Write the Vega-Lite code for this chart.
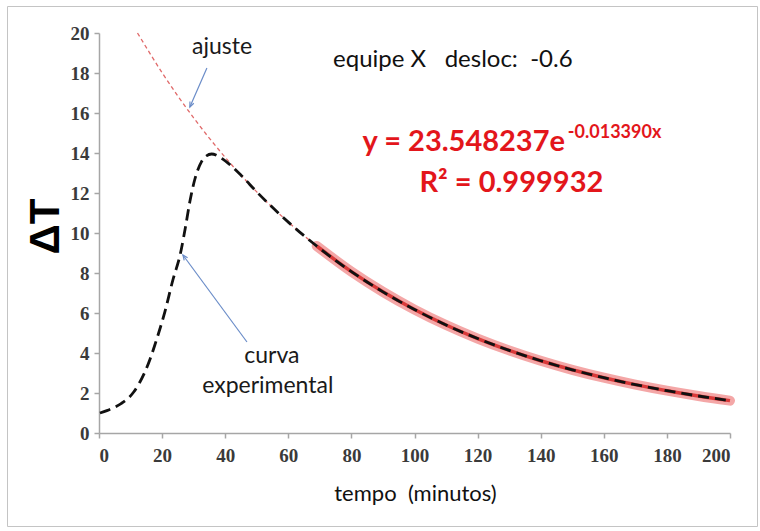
{
  "$schema": "https://vega.github.io/schema/vega-lite/v6.json",
  "width": 750,
  "height": 520,
  "autosize": {"type": "none"},
  "padding": {"left": 7, "top": 6, "right": 3, "bottom": 5},
  "background": "white",
  "config": {
    "view": {"stroke": "#c4c4c4", "strokeWidth": 1},
    "axis": {"grid": false}
  },
  "encoding": {
    "x": {
      "field": "t", "type": "quantitative",
      "scale": {"domain": [0, 200], "range": [92, 723], "nice": false, "zero": false},
      "axis": {
        "values": [0, 20, 40, 60, 80, 100, 120, 140, 160, 180, 200],
        "offset": -93,
        "domainColor": "#a6a6a6", "domainWidth": 1.5,
        "tickColor": "#a6a6a6", "tickWidth": 1.5, "tickSize": 5,
        "labelFont": "Liberation Serif", "labelFontSize": 19, "labelFontWeight": "bold",
        "labelColor": "#3a3a3a", "labelPadding": 8,
        "title": "tempo\u00a0\u00a0(minutos)",
        "titleFont": "Lato", "titleFontSize": 22, "titleFontWeight": "normal",
        "titleColor": "#111111", "titleX": 408, "titleY": 60,
        "titleBaseline": "middle", "titleAlign": "center"
      }
    },
    "y": {
      "field": "v", "type": "quantitative",
      "scale": {"domain": [0, 20], "range": [427, 27], "nice": false, "zero": false},
      "axis": {
        "values": [0, 2, 4, 6, 8, 10, 12, 14, 16, 18, 20],
        "offset": -92,
        "domainColor": "#a6a6a6", "domainWidth": 1.5,
        "tickColor": "#a6a6a6", "tickWidth": 1.5, "tickSize": 5,
        "labelFont": "Liberation Serif", "labelFontSize": 19, "labelFontWeight": "bold",
        "labelColor": "#3a3a3a", "labelPadding": 5,
        "title": "ΔT",
        "titleFont": "Liberation Sans", "titleFontSize": 42, "titleFontWeight": "bold",
        "titleColor": "#000000", "titleAngle": -90, "titleX": -54, "titleY": 220,
        "titleBaseline": "middle", "titleAlign": "center"
      }
    }
  },
  "layer": [
    {
      "data": {"values": [
        {"t": 12.2, "v": 20.0}, {"t": 20, "v": 18.016}, {"t": 30, "v": 15.758}, {"t": 40, "v": 13.783},
        {"t": 50, "v": 12.056}, {"t": 60, "v": 10.545}, {"t": 70, "v": 9.223}, {"t": 80, "v": 8.068},
        {"t": 90, "v": 7.057}, {"t": 100, "v": 6.172}, {"t": 110, "v": 5.399}, {"t": 120, "v": 4.722},
        {"t": 130, "v": 4.131}, {"t": 140, "v": 3.613}, {"t": 150, "v": 3.160}, {"t": 160, "v": 2.764},
        {"t": 170, "v": 2.418}, {"t": 180, "v": 2.115}, {"t": 190, "v": 1.850}, {"t": 200, "v": 1.618}
      ]},
      "mark": {"type": "line", "color": "#e06a6a", "strokeWidth": 1.3, "strokeDash": [4, 3], "interpolate": "monotone"}
    },
    {
      "data": {"values": [
        {"t": 69, "v": 9.35}, {"t": 80, "v": 8.068}, {"t": 90, "v": 7.057}, {"t": 100, "v": 6.172},
        {"t": 110, "v": 5.399}, {"t": 120, "v": 4.722}, {"t": 130, "v": 4.131}, {"t": 140, "v": 3.613},
        {"t": 150, "v": 3.160}, {"t": 160, "v": 2.764}, {"t": 170, "v": 2.418}, {"t": 180, "v": 2.115},
        {"t": 190, "v": 1.850}, {"t": 200, "v": 1.618}
      ]},
      "layer": [
        {"mark": {"type": "line", "color": "#f08a8a", "strokeWidth": 10, "opacity": 0.75, "interpolate": "monotone", "strokeCap": "round"}},
        {"mark": {"type": "line", "color": "#d93a3a", "strokeWidth": 3.5, "interpolate": "monotone"}}
      ]
    },
    {
      "data": {"values": [
        {"t": 0.3, "v": 1.0}, {"t": 2.5, "v": 1.12}, {"t": 5.1, "v": 1.3}, {"t": 7.0, "v": 1.47},
        {"t": 9.0, "v": 1.7}, {"t": 11.0, "v": 2.05}, {"t": 12.8, "v": 2.5}, {"t": 14.6, "v": 3.07},
        {"t": 16.2, "v": 3.7}, {"t": 17.7, "v": 4.4},
        {"t": 20.9, "v": 6.07}, {"t": 23.5, "v": 7.7}, {"t": 25.7, "v": 8.9}, {"t": 27.3, "v": 10.2},
        {"t": 28.8, "v": 11.57}, {"t": 30.4, "v": 12.7}, {"t": 32.5, "v": 13.57}, {"t": 34, "v": 13.85},
        {"t": 35.7, "v": 13.95}, {"t": 37.3, "v": 13.88}, {"t": 38.9, "v": 13.73}, {"t": 41, "v": 13.48},
        {"t": 45, "v": 12.89}, {"t": 50, "v": 12.056}, {"t": 60, "v": 10.545}, {"t": 70, "v": 9.223},
        {"t": 80, "v": 8.068}, {"t": 90, "v": 7.057}, {"t": 100, "v": 6.172}, {"t": 110, "v": 5.399},
        {"t": 120, "v": 4.722}, {"t": 130, "v": 4.131}, {"t": 140, "v": 3.613}, {"t": 150, "v": 3.160},
        {"t": 160, "v": 2.764}, {"t": 170, "v": 2.418}, {"t": 180, "v": 2.115}, {"t": 190, "v": 1.850},
        {"t": 200, "v": 1.618}
      ]},
      "mark": {"type": "line", "color": "#111111", "strokeWidth": 2.8, "strokeDash": [11, 6], "interpolate": "monotone"}
    },
    {
      "data": {"values": [
        {"t": 34.2, "v": 18.25, "t2": 28.8, "v2": 16.3},
        {"t": 46.9, "v": 4.55, "t2": 26.6, "v2": 8.9}
      ]},
      "mark": {"type": "rule", "color": "#6a8cc8", "strokeWidth": 1.2},
      "encoding": {"x2": {"field": "t2"}, "y2": {"field": "v2"}}
    },
    {
      "data": {"values": [{"t": 28.8, "v": 16.3}]},
      "mark": {"type": "point", "shape": "M -0.5 1.2 L 0 0 L 0.5 1.2", "filled": false, "stroke": "#6a8cc8", "strokeWidth": 1.2, "size": 70, "angle": 203.6, "opacity": 1}
    },
    {
      "data": {"values": [{"t": 26.6, "v": 8.9}]},
      "mark": {"type": "point", "shape": "M -0.5 1.2 L 0 0 L 0.5 1.2", "filled": false, "stroke": "#6a8cc8", "strokeWidth": 1.2, "size": 70, "angle": 323.7, "opacity": 1}
    },
    {
      "data": {"values": [
        {"t": 39.0, "v": 19.3, "label": "ajuste"},
        {"t": 54.8, "v": 3.85, "label": "curva"},
        {"t": 53.5, "v": 2.35, "label": "experimental"}
      ]},
      "mark": {"type": "text", "font": "Lato", "fontSize": 23, "color": "#1a1a1a", "align": "center", "baseline": "middle"},
      "encoding": {"text": {"field": "label"}}
    },
    {
      "data": {"values": [{"t": 74.2, "v": 18.65, "label": "equipe\u00a0X\u00a0\u00a0\u00a0desloc:\u00a0\u00a0-0.6"}]},
      "mark": {"type": "text", "font": "Lato", "fontSize": 24, "color": "#111111", "align": "left", "baseline": "middle"},
      "encoding": {"text": {"field": "label"}}
    },
    {
      "data": {"values": [{"t": 147.7, "v": 14.55, "label": "y = 23.548237e"}]},
      "mark": {"type": "text", "font": "Lato", "fontSize": 29, "fontWeight": "bold", "color": "#e3161b", "align": "right", "baseline": "middle"},
      "encoding": {"text": {"field": "label"}}
    },
    {
      "data": {"values": [{"t": 148.6, "v": 15.0, "label": "-0.013390x"}]},
      "mark": {"type": "text", "font": "Lato", "fontSize": 18, "fontWeight": "bold", "color": "#e3161b", "align": "left", "baseline": "middle"},
      "encoding": {"text": {"field": "label"}}
    },
    {
      "data": {"values": [{"t": 130.7, "v": 12.5, "label": "R² = 0.999932"}]},
      "mark": {"type": "text", "font": "Lato", "fontSize": 29, "fontWeight": "bold", "color": "#e3161b", "align": "center", "baseline": "middle"},
      "encoding": {"text": {"field": "label"}}
    }
  ]
}
